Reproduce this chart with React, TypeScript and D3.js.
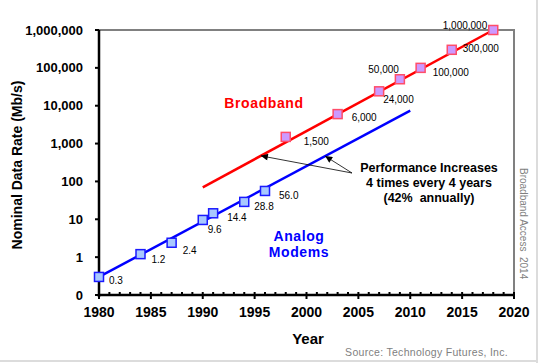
import { useEffect, useRef } from "react";
import * as d3 from "d3";

// Analog modem speeds (Mb/s)
const modemYears = [1980, 1984, 1987, 1990, 1991, 1994, 1996];
const modemValues = [0.3, 1.2, 2.4, 9.6, 14.4, 28.8, 56.0];
const modemLabels = ["0.3", "1.2", "2.4", "9.6", "14.4", "28.8", "56.0"];

// Broadband speeds (Mb/s)
const bbYears = [1998, 2003, 2007, 2009, 2011, 2014, 2018];
const bbValues = [1500, 6000, 24000, 50000, 100000, 300000, 1000000];
const bbLabels = ["1,500", "6,000", "24,000", "50,000", "100,000", "300,000", "1,000,000"];

// trend lines: [year, value] endpoints
const modemTrend: [number, number][] = [[1980, 0.3], [2010, 7400]];
const bbTrend: [number, number][] = [[1990, 70], [2018, 1000000]];

const yTicks = [0.1, 1, 10, 100, 1000, 10000, 100000, 1000000];
const yTickLabels = ["0", "1", "10", "100", "1,000", "10,000", "100,000", "1,000,000"];
const xTicks = [1980, 1985, 1990, 1995, 2000, 2005, 2010, 2015, 2020];

// years on each trend line where the annotation arrows point
const arrowYears = [1995.6, 2001.8];

// label placement next to each point
const modemLabelPos = [[10, 4], [11, 5], [11, 8], [5, 10], [14, 4], [10, 5], [14, 5]];
const bbLabelPos = [[18, 5], [14, 3], [4, 8], [-1, -10], [12, 5], [11, -1], [-6, -5]];
const bbLabelAnchor = ["start", "start", "start", "end", "start", "start", "end"];

const FONT = "Liberation Sans, Arial, sans-serif";

export default function App() {
  const svgRef = useRef<SVGSVGElement | null>(null);

  useEffect(() => {
    if (!svgRef.current) return;
    const svg = d3.select(svgRef.current);
    svg.selectAll("*").remove();

    const left = 99, right = 514, top = 30, bottom = 295;

    const x = d3.scaleLinear().domain([1980, 2020]).range([left, right]);
    const y = d3.scaleLog().domain([0.1, 1000000]).range([bottom, top]);

    // outer frame
    svg.append("line").attr("x1", 537).attr("x2", 537).attr("y1", 0).attr("y2", 363)
      .attr("stroke", "#dcdcdc").attr("stroke-width", 2);
    svg.append("line").attr("x1", 0).attr("x2", 538).attr("y1", 361).attr("y2", 361)
      .attr("stroke", "#dcdcdc").attr("stroke-width", 2);

    // gray plot border top/right
    svg.append("path")
      .attr("d", `M${left},${top}H${right}V${bottom}`)
      .attr("fill", "none")
      .attr("stroke", "#808080")
      .attr("stroke-width", 2);

    // x axis
    const xa = svg.append("g");
    d3.range(1980, 2021).forEach((yr) => {
      const major = yr % 5 === 0;
      xa.append("line")
        .attr("x1", x(yr)).attr("x2", x(yr))
        .attr("y1", bottom - 3).attr("y2", major ? bottom + 4 : bottom)
        .attr("stroke", "#000").attr("stroke-width", 2);
    });
    xa.append("line").attr("x1", left).attr("x2", right).attr("y1", bottom).attr("y2", bottom)
      .attr("stroke", "#000").attr("stroke-width", 2.5);
    xa.selectAll("text.xt")
      .data(xTicks)
      .enter()
      .append("text")
      .attr("x", (d) => x(d))
      .attr("y", 317)
      .attr("text-anchor", "middle")
      .attr("font-family", FONT)
      .attr("font-weight", "bold")
      .attr("font-size", 14)
      .text((d) => d);

    // y axis
    const ya = svg.append("g");
    yTicks.forEach((v, i) => {
      ya.append("line")
        .attr("x1", left - 4).attr("x2", left)
        .attr("y1", y(v)).attr("y2", y(v))
        .attr("stroke", "#000").attr("stroke-width", 2);
      ya.append("text")
        .attr("x", 83)
        .attr("y", y(v) + 4.5)
        .attr("text-anchor", "end")
        .attr("font-family", FONT)
        .attr("font-weight", "bold")
        .attr("font-size", 13)
        .text(yTickLabels[i]);
    });
    ya.append("line").attr("x1", left).attr("x2", left).attr("y1", top).attr("y2", bottom + 2)
      .attr("stroke", "#000").attr("stroke-width", 2.5);

    // axis titles
    svg.append("text")
      .text("Year")
      .attr("x", 308).attr("y", 344)
      .attr("text-anchor", "middle")
      .attr("font-family", FONT).attr("font-weight", "bold").attr("font-size", 15);

    svg.append("text")
      .text("Nominal Data Rate (Mb/s)")
      .attr("transform", "translate(22,165) rotate(-90)")
      .attr("text-anchor", "middle")
      .attr("font-family", FONT).attr("font-weight", "bold").attr("font-size", 14);

    // trend lines
    const line = d3.line<[number, number]>().x((d) => x(d[0])).y((d) => y(d[1]));
    svg.append("path").datum(bbTrend).attr("d", line)
      .attr("fill", "none").attr("stroke", "#ff0000").attr("stroke-width", 2.5);
    svg.append("path").datum(modemTrend).attr("d", line)
      .attr("fill", "none").attr("stroke", "#0000ff").attr("stroke-width", 2.5);

    // markers
    const s = 9;
    modemYears.forEach((yr, i) => {
      svg.append("rect")
        .attr("x", x(yr) - s / 2).attr("y", y(modemValues[i]) - s / 2)
        .attr("width", s).attr("height", s)
        .attr("fill", "#a8c8ff").attr("stroke", "#1a1aff").attr("stroke-width", 1.5);
      svg.append("text")
        .attr("x", x(yr) + modemLabelPos[i][0])
        .attr("y", y(modemValues[i]) + modemLabelPos[i][1] + 3.5)
        .attr("font-family", FONT).attr("font-size", 10)
        .text(modemLabels[i]);
    });
    bbYears.forEach((yr, i) => {
      svg.append("rect")
        .attr("x", x(yr) - s / 2).attr("y", y(bbValues[i]) - s / 2)
        .attr("width", s).attr("height", s)
        .attr("fill", "#cc99ff").attr("stroke", "#ff4d6a").attr("stroke-width", 1.5);
      svg.append("text")
        .attr("x", x(yr) + bbLabelPos[i][0])
        .attr("y", y(bbValues[i]) + bbLabelPos[i][1] + 3.5)
        .attr("text-anchor", bbLabelAnchor[i])
        .attr("font-family", FONT).attr("font-size", 10)
        .text(bbLabels[i]);
    });

    // series names
    svg.append("text").text("Broadband")
      .attr("x", 264).attr("y", 108).attr("text-anchor", "middle")
      .attr("fill", "#ff0000").attr("font-family", FONT).attr("font-weight", "bold")
      .attr("font-size", 14).attr("letter-spacing", 0.6);
    svg.append("text").text("Analog")
      .attr("x", 299).attr("y", 241).attr("text-anchor", "middle")
      .attr("fill", "#0000ff").attr("font-family", FONT).attr("font-weight", "bold")
      .attr("font-size", 14).attr("letter-spacing", 0.6);
    svg.append("text").text("Modems")
      .attr("x", 299).attr("y", 257).attr("text-anchor", "middle")
      .attr("fill", "#0000ff").attr("font-family", FONT).attr("font-weight", "bold")
      .attr("font-size", 14).attr("letter-spacing", 0.6);

    // annotation arrows, tips on the trend lines
    svg.append("defs").append("marker")
      .attr("id", "arr")
      .attr("viewBox", "0 0 10 10")
      .attr("refX", 10).attr("refY", 5)
      .attr("markerWidth", 9).attr("markerHeight", 7)
      .attr("markerUnits", "userSpaceOnUse")
      .attr("orient", "auto")
      .append("path").attr("d", "M0,0L10,5L0,10z").attr("fill", "#000");

    const along = (t: [number, number][], yr: number) => {
      const f = (yr - t[0][0]) / (t[1][0] - t[0][0]);
      const lv = Math.log10(t[0][1]) + f * (Math.log10(t[1][1]) - Math.log10(t[0][1]));
      return Math.pow(10, lv);
    };
    const tail: [number, number] = [352, 173];
    const tips: [number, number][] = [
      [x(arrowYears[0]), y(along(bbTrend, arrowYears[0]))],
      [x(arrowYears[1]), y(along(modemTrend, arrowYears[1]))],
    ];
    tips.forEach((tip) => {
      svg.append("line")
        .attr("x1", tail[0]).attr("y1", tail[1])
        .attr("x2", tip[0]).attr("y2", tip[1])
        .attr("stroke", "#000").attr("stroke-width", 0.8)
        .attr("marker-end", "url(#arr)");
    });

    ["Performance Increases", "4 times every 4 years", "(42%  annually)"].forEach((t, i) => {
      svg.append("text").text(t)
        .attr("x", 429).attr("y", 172 + i * 15)
        .attr("text-anchor", "middle")
        .attr("font-family", FONT).attr("font-weight", "bold").attr("font-size", 12.5)
        .style("white-space", "pre");
    });

    // side note and source
    svg.append("text").text("Broadband Access  2014")
      .attr("transform", "translate(520,168) rotate(90)")
      .attr("fill", "#808080").attr("font-family", FONT).attr("font-size", 10)
      .style("white-space", "pre");
    svg.append("text").text("Source: Technology Futures, Inc.")
      .attr("x", 508).attr("y", 356).attr("text-anchor", "end")
      .attr("fill", "#808080").attr("font-family", FONT).attr("font-size", 10.5)
      .attr("letter-spacing", 0.3);
  }, []);

  return (
    <svg
      ref={svgRef}
      width={538}
      height={363}
      style={{ position: "absolute", left: 0, top: 0, background: "#fff" }}
    />
  );
}
